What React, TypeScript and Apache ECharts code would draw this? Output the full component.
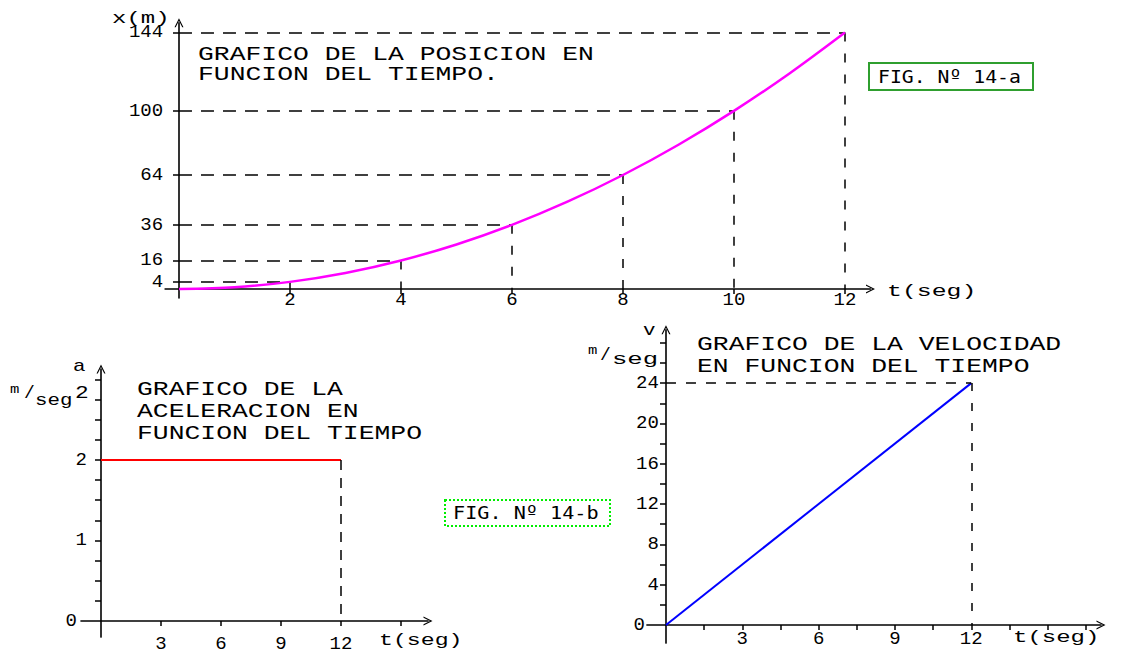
import React, { useEffect, useRef } from "react";
import * as echarts from "echarts";

// ---- data ----
const posT = [0, 1, 2, 3, 4, 5, 6, 7, 8, 9, 10, 11, 12];
const posX = [0, 1, 4, 9, 16, 25, 36, 49, 64, 81, 100, 121, 144];
const posGuideT = [2, 4, 6, 8, 10, 12];
const posGuideX = [4, 16, 36, 64, 100, 144];
const posXLabels = [2, 4, 6, 8, 10, 12];
const posYLabels = [4, 16, 36, 64, 100, 144];

const accT = [0, 12];
const accA = [2, 2];
const accXLabels = [3, 6, 9, 12];
const accXTicks = [3, 6, 9, 12, 15];
const accYLabels = [0, 1, 2];
const accYTicks = [0.25, 0.5, 0.75, 1, 1.25, 1.5, 1.75, 2, 2.25, 2.5, 2.75, 3];

const velT = [0, 12];
const velV = [0, 24];
const velXLabels = [3, 6, 9, 12];
const velXTicks = [1.5, 3, 4.5, 6, 7.5, 9, 10.5, 12, 13.5, 15, 16.5];
const velYLabels = [0, 4, 8, 12, 16, 20, 24];
const velYTicks = [2, 4, 6, 8, 10, 12, 14, 16, 18, 20, 22, 24, 26, 28];

const MONO = "Liberation Mono";
const ARROW = "path://M0,10 L5,0 L10,10 L8.6,10 L5,2.8 L1.4,10 Z";
const LABEL_SIZE = 19;

function xAxis(grid: number, min: number, max: number, ticks: number[], labels: number[], margin: number, lineHeight?: number) {
  return {
    type: "value",
    gridIndex: grid,
    min,
    max,
    splitLine: { show: false },
    axisLine: {
      show: true,
      onZero: true,
      symbol: ["none", ARROW],
      symbolSize: [10, 9],
      lineStyle: { color: "#000", width: 1.6 },
    },
    axisTick: { show: true, customValues: ticks, length: 5, lineStyle: { color: "#000", width: 1.5 } },
    axisLabel: {
      customValues: labels,
      margin,
      color: "#000",
      fontFamily: MONO,
      fontSize: LABEL_SIZE,
      lineHeight,
    },
  };
}

function yAxis(grid: number, min: number, max: number, ticks: number[], labels: number[], margin: number, zeroPad: number) {
  return {
    type: "value",
    gridIndex: grid,
    min,
    max,
    splitLine: { show: false },
    axisLine: {
      show: true,
      onZero: true,
      symbol: ["none", ARROW],
      symbolSize: [10, 9],
      lineStyle: { color: "#000", width: 1.6 },
    },
    axisTick: { show: true, customValues: ticks, length: 6, lineStyle: { color: "#000", width: 1.5 } },
    axisLabel: {
      customValues: labels,
      margin,
      color: "#000",
      fontFamily: MONO,
      fontSize: LABEL_SIZE,
      formatter: (v: number) => (v === 0 && zeroPad > 0 ? "{z|0}" : String(v)),
      rich: { z: { padding: [0, zeroPad, 0, 0], fontFamily: MONO, fontSize: LABEL_SIZE, color: "#000" } },
    },
  };
}

function txt(text: string, x: number, y: number, size: number, scaleX: number, family = MONO) {
  return {
    type: "text",
    x,
    y,
    scaleX,
    silent: true,
    style: {
      text,
      fill: "#000",
      font: `${size}px "${family}"`,
      verticalAlign: "middle",
      align: "left",
    },
  };
}

const HDASH = { color: "#000", width: 1.5, type: [13, 9] };
const VDASH = { color: "#000", width: 1.5, type: [9, 12] };

export default function App() {
  const ref = useRef<HTMLDivElement>(null);
  useEffect(() => {
    if (!ref.current) return;
    const chart = echarts.init(ref.current, undefined, { renderer: "svg" });

    const posGuides: any[] = [];
    posGuideT.forEach((t, i) => {
      const x = posGuideX[i];
      posGuides.push([{ coord: [0, x], lineStyle: HDASH }, { coord: [t, x] }]);
      posGuides.push([{ coord: [t, x], lineStyle: VDASH }, { coord: [t, 0] }]);
    });

    const option: any = {
      animation: false,
      backgroundColor: "#fff",
      grid: [
        { left: 165.1, top: 22.7, width: 705.4, height: 275.2, outerBoundsMode: "none", containLabel: false },
        { left: 81, top: 369, width: 347, height: 268.1, outerBoundsMode: "none", containLabel: false },
        { left: 646.9, top: 329.7, width: 454.1, height: 313.4, outerBoundsMode: "none", containLabel: false },
      ],
      xAxis: [
        xAxis(0, -0.25, 12.46, posXLabels, posXLabels, -2, 8),
        xAxis(1, -1, 16.35, accXTicks, accXLabels, -3),
        xAxis(2, -0.75, 17.1, velXTicks, velXLabels, -14),
      ],
      yAxis: [
        yAxis(0, -5, 149.5, posYLabels, posYLabels, 2, 0),
        yAxis(1, -0.2, 3.13, accYTicks, accYLabels, -6, 10),
        yAxis(2, -1.8, 29.3, velYTicks, velYLabels, -12, 14),
      ],
      series: [
        {
          type: "line",
          xAxisIndex: 0,
          yAxisIndex: 0,
          data: posT.map((t, i) => [t, posX[i]]),
          smooth: 0.3,
          symbol: "none",
          lineStyle: { color: "#ff00ff", width: 2.5 },
          z: 5,
          markLine: {
            silent: true,
            symbol: ["none", "none"],
            label: { show: false },
            data: posGuides,
            z: 3,
          },
        },
        {
          type: "line",
          xAxisIndex: 1,
          yAxisIndex: 1,
          data: accT.map((t, i) => [t, accA[i]]),
          symbol: "none",
          lineStyle: { color: "#ff0000", width: 2 },
          markLine: {
            silent: true,
            symbol: ["none", "none"],
            label: { show: false },
            data: [[{ coord: [accT[1], accA[1]], lineStyle: { color: "#000", width: 1.5, type: [10, 8] } }, { coord: [accT[1], 0] }]],
          },
        },
        {
          type: "line",
          xAxisIndex: 2,
          yAxisIndex: 2,
          data: velT.map((t, i) => [t, velV[i]]),
          symbol: "none",
          lineStyle: { color: "#0000ff", width: 2 },
          markLine: {
            silent: true,
            symbol: ["none", "none"],
            label: { show: false },
            data: [
              [{ coord: [0, velV[1]], lineStyle: { color: "#000", width: 1.5, type: [10, 10] } }, { coord: [velT[1], velV[1]] }],
              [{ coord: [velT[1], velV[1]], lineStyle: { color: "#000", width: 1.5, type: [8, 12] } }, { coord: [velT[1], 0] }],
            ],
          },
        },
      ],
      graphic: [
        // chart 1
        txt("GRAFICO DE LA POSICION EN", 198, 54.5, 20, 1.32),
        txt("FUNCION DEL TIEMPO.", 198, 74.5, 20, 1.32),
        txt("x(m)", 112, 19, 16, 1.5),
        txt("t(seg)", 887, 292, 16, 1.55),
        {
          type: "rect",
          shape: { x: 869, y: 63, width: 164, height: 27 },
          style: { fill: "#fff", stroke: "#2f9f2f", lineWidth: 2 },
          silent: true,
        },
        txt("FIG. Nº 14-a", 878, 76.5, 18, 1.1, "DejaVu Sans Mono"),
        // chart 2
        txt("GRAFICO DE LA", 137, 390, 20, 1.32),
        txt("ACELERACION EN", 137, 412, 20, 1.32),
        txt("FUNCION DEL TIEMPO", 137, 434, 20, 1.32),
        txt("a", 73, 367, 16, 1.3),
        txt("m", 10, 389, 13, 1.2),
        txt("/", 24, 393, 18, 1.0),
        txt("seg", 35, 401, 16, 1.3),
        txt("2", 75, 393, 19, 1.2),
        txt("t(seg)", 379, 641, 16, 1.45),
        {
          type: "rect",
          shape: { x: 445, y: 500, width: 165, height: 26 },
          style: { fill: "#fff", stroke: "#00ee00", lineWidth: 2, lineDash: [2, 2] },
          silent: true,
        },
        txt("FIG. Nº 14-b", 453, 513, 18, 1.12, "DejaVu Sans Mono"),
        // chart 3
        txt("GRAFICO DE LA VELOCIDAD", 697, 345, 20, 1.32),
        txt("EN FUNCION DEL TIEMPO", 697, 367, 20, 1.32),
        txt("v", 643, 331, 16, 1.3),
        txt("m", 588, 350, 13, 1.2),
        txt("/", 600, 355, 18, 1.0),
        txt("seg", 612, 360, 16, 1.6),
        txt("t(seg)", 1013, 638, 16, 1.5),
      ],
    };
    chart.setOption(option);
    return () => chart.dispose();
  }, []);
  return <div ref={ref} style={{ position: "absolute", left: 0, top: 0, width: 1129, height: 655 }} />;
}
